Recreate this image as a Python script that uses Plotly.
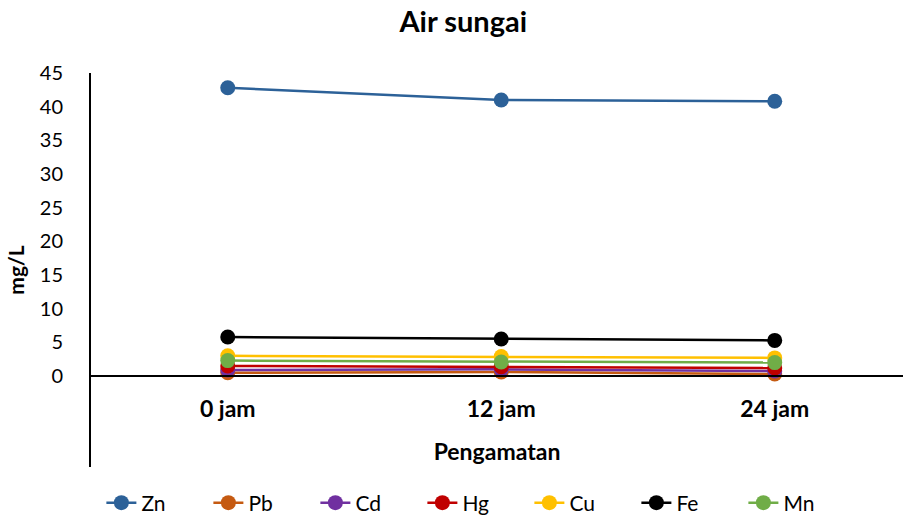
import plotly.graph_objects as go

# Observation times
categories = ["0 jam", "12 jam", "24 jam"]

# Metal concentrations in river water (mg/L)
zn = [42.8, 41.0, 40.8]
pb = [0.5, 0.6, 0.3]
cd = [0.9, 1.0, 0.75]
hg = [1.5, 1.4, 1.2]
cu = [3.0, 2.9, 2.7]
fe = [5.8, 5.5, 5.3]
mn = [2.3, 2.1, 2.0]

series_names = ["Zn", "Pb", "Cd", "Hg", "Cu", "Fe", "Mn"]
series_values = [zn, pb, cd, hg, cu, fe, mn]
series_colors = ["#2C6198", "#C55A11", "#7030A0", "#C00000", "#FFC000", "#000000", "#70AD47"]

y_ticks = [0, 5, 10, 15, 20, 25, 30, 35, 40, 45]
y_min, y_max = -13.5, 45

FONT = "Lato, 'Open Sans', sans-serif"

fig = go.Figure()
for name, vals, col in zip(series_names, series_values, series_colors):
    fig.add_trace(go.Scatter(
        x=categories, y=vals, name=name, mode="lines+markers",
        line=dict(color=col, width=2.5),
        marker=dict(color=col, size=15),
    ))

fig.update_layout(
    width=903, height=515,
    margin=dict(l=91, r=0, t=73, b=48, autoexpand=False),
    paper_bgcolor="white", plot_bgcolor="white",
    font=dict(family=FONT, color="#000000", size=20),
    title=dict(text="<b>Air sungai</b>", x=0.513, xanchor="center",
               y=1 - 22 / 515, yanchor="middle", yref="container",
               font=dict(size=29, family=FONT, color="#000000")),
    showlegend=True,
    legend=dict(orientation="h", x=0.527, xanchor="center", xref="container",
                y=1 - 503 / 515, yanchor="middle", yref="container",
                font=dict(size=21, family=FONT),
                entrywidth=62, entrywidthmode="pixels",
                bgcolor="rgba(0,0,0,0)"),
)

fig.update_xaxes(
    type="category", range=[-0.5, 2.469],
    anchor="free", position=(0 - y_min) / (y_max - y_min),
    automargin=False,
    showline=True, linecolor="#000000", linewidth=2,
    showgrid=False, zeroline=False, ticks="",
    ticklabelstandoff=12,
    tickfont=dict(size=23, family=FONT),
    tickprefix="<b>", ticksuffix="</b>",
    title=dict(text="<b>Pengamatan</b>", standoff=22,
               font=dict(size=23, family=FONT)),
)

fig.update_yaxes(
    range=[y_min, y_max], tickvals=y_ticks,
    automargin=False,
    showline=True, linecolor="#000000", linewidth=2,
    showgrid=False, zeroline=False, ticks="",
    ticklabelstandoff=22,
    tickfont=dict(size=20, family=FONT),
    title=dict(text="<b>mg/L</b>", standoff=9,
               font=dict(size=21, family=FONT)),
)

fig.write_html("out.html")
